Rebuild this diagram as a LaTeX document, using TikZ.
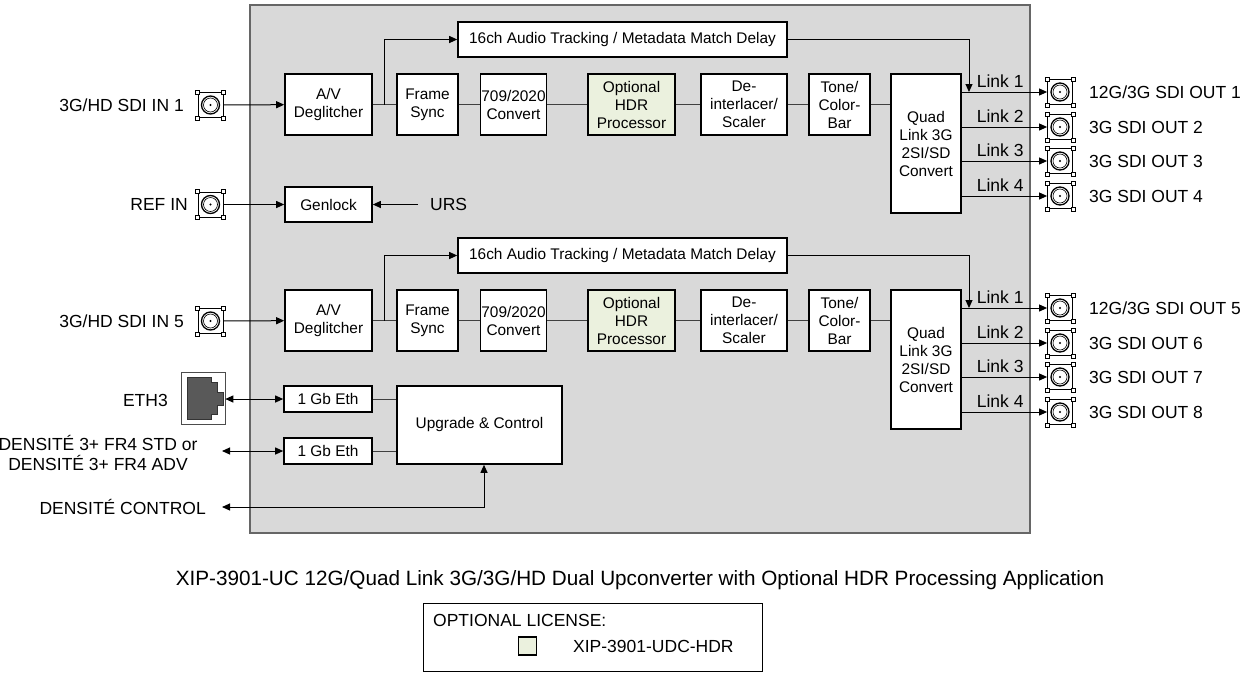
\documentclass[tikz,border=0pt]{standalone}
\usepackage{fontspec}
\setmainfont{Liberation Sans}
\usetikzlibrary{arrows.meta}

\definecolor{panelgray}{HTML}{D9D9D9}
\definecolor{hdrgreen}{HTML}{EBF1DE}
\definecolor{jackgray}{HTML}{595959}

\tikzset{
  blk/.style={draw, line width=1.6pt, fill=white, align=center, inner sep=1pt,
    minimum height=61pt, font=\fontsize{15.4}{18}\selectfont},
  wide/.style={minimum width=87pt},
  narrow/.style={minimum width=61pt},
  lbl/.style={inner sep=0pt, font=\fontsize{17.5}{20}\selectfont},
  wire/.style={draw=black!75, line width=1pt},
  sig/.style={draw=black, line width=1pt, -{Triangle[length=8pt,width=7pt]}},
  bisig/.style={draw=black, line width=1pt,
    {Triangle[length=8pt,width=7pt]}-{Triangle[length=8pt,width=7pt]}},
  bncbox/.style={draw, line width=0.8pt, fill=white, minimum size=25pt, inner sep=0pt},
}

% BNC jack: name, centre
\newcommand{\bnc}[2]{%
  \node[bncbox] (#1) at (#2) {};
  \draw[line width=1.3pt] (#1.center) circle (9pt);
  \draw[line width=0.6pt] (#1.center) circle (7pt);
  \fill (#1.center) circle (1.2pt);
  \foreach \corner in {north east,north west,south east,south west}
    \draw[line width=0.6pt, fill=white] (#1.\corner) +(-2,-2) rectangle +(2,2);
}

\begin{document}
\begin{tikzpicture}[x=1pt, y=-1pt]
        \useasboundingbox (0,0) rectangle (1248,673);
        \draw[draw=black!60, line width=1.3pt, fill=panelgray] (250,5) rectangle (1030,533);

        % input 1 chain
        \node[blk, wide] (deg1) at (328.5,104.5) {A/V\\Deglitcher};
        \node[blk, narrow] (sync1) at (427.5,104.5) {Frame\\Sync};
        \node[blk, narrow] (conv1) at (513.5,104.5) {709/2020\\Convert};
        \node[blk, wide, fill=hdrgreen] (hdr1) at (631.5,104.5) {Optional\\HDR\\Processor};
        \node[blk, minimum width=86pt] (dei1) at (744,104.5) {De-\\interlacer/\\Scaler};
        \node[blk, narrow] (tone1) at (839.5,104.5) {Tone/\\Color-\\Bar};
        \node[blk, minimum width=70pt, minimum height=139pt] (quad1) at (926,143.5) {Quad\\Link 3G\\2SI/SD\\Convert};
        \node[blk, minimum width=329pt, minimum height=35pt] (audio1) at (622.5,39.5) {16ch Audio Tracking / Metadata Match Delay};
        \node[blk, wide, minimum height=35pt] (genlock) at (328.5,204.5) {Genlock};
        \node[lbl, anchor=west] (urs) at (430,204.5) {URS};

        % input 5 chain
        \node[blk, wide] (deg5) at (328.5,320.5) {A/V\\Deglitcher};
        \node[blk, narrow] (sync5) at (427.5,320.5) {Frame\\Sync};
        \node[blk, narrow] (conv5) at (513.5,320.5) {709/2020\\Convert};
        \node[blk, wide, fill=hdrgreen] (hdr5) at (631.5,320.5) {Optional\\HDR\\Processor};
        \node[blk, minimum width=86pt] (dei5) at (744,320.5) {De-\\interlacer/\\Scaler};
        \node[blk, narrow] (tone5) at (839.5,320.5) {Tone/\\Color-\\Bar};
        \node[blk, minimum width=70pt, minimum height=139pt] (quad5) at (926,359.5) {Quad\\Link 3G\\2SI/SD\\Convert};
        \node[blk, minimum width=329pt, minimum height=35pt] (audio5) at (622.5,255.5) {16ch Audio Tracking / Metadata Match Delay};

        % control
        \node[blk, minimum width=88pt, minimum height=26pt] (gbe1) at (328,399) {1 Gb Eth};
        \node[blk, minimum width=88pt, minimum height=26pt] (gbe2) at (328,451) {1 Gb Eth};
        \node[blk, minimum width=165pt, minimum height=78pt] (ctrl) at (479.5,425) {Upgrade \& Control};

        % jacks
        \bnc{in1}{210.5,105}
        \bnc{ref}{210.5,204.5}
        \bnc{in5}{210.5,321}
        \bnc{out1}{1060,92}
        \bnc{out2}{1060,127}
        \bnc{out3}{1060,161}
        \bnc{out4}{1060,196}
        \bnc{out5}{1060,308}
        \bnc{out6}{1060,343}
        \bnc{out7}{1060,377}
        \bnc{out8}{1060,412}

        \node[draw=black!70, line width=0.6pt, fill=white, minimum width=44pt, minimum height=52pt] (eth3) at (203,398) {};
        \draw[fill=jackgray, draw=black!80, line width=0.6pt] (187,377) -- (211,377) -- (211,382) -- (217,382)
          -- (217,392) -- (223,392) -- (223,405) -- (217,405) -- (217,414) -- (211,414) -- (211,419) -- (187,419) -- cycle;

        % outside labels
        \node[lbl, anchor=east] (in1lbl) at (184,105) {3G/HD SDI IN 1};
        \node[lbl, anchor=east] (reflbl) at (188,204.5) {REF IN};
        \node[lbl, anchor=east] (in5lbl) at (184,321) {3G/HD SDI IN 5};
        \node[lbl, anchor=east] (eth3lbl) at (168,400) {ETH3};
        \node[lbl, align=center] (fr4) at (98,453) {DENSITÉ 3+ FR4 STD or\\DENSITÉ 3+ FR4 ADV};
        \node[lbl, anchor=east] (dctl) at (206,507) {DENSITÉ CONTROL};
        \node[lbl, anchor=west] (out1lbl) at (1089,92) {12G/3G SDI OUT 1};
        \node[lbl, anchor=west] (out2lbl) at (1089,127) {3G SDI OUT 2};
        \node[lbl, anchor=west] (out3lbl) at (1089,161) {3G SDI OUT 3};
        \node[lbl, anchor=west] (out4lbl) at (1089,196) {3G SDI OUT 4};
        \node[lbl, anchor=west] (out5lbl) at (1089,308) {12G/3G SDI OUT 5};
        \node[lbl, anchor=west] (out6lbl) at (1089,343) {3G SDI OUT 6};
        \node[lbl, anchor=west] (out7lbl) at (1089,377) {3G SDI OUT 7};
        \node[lbl, anchor=west] (out8lbl) at (1089,412) {3G SDI OUT 8};

        \coordinate (split1) at (384,104.5);
        \coordinate (split5) at (384,320.5);
        \coordinate (tap1) at (969,92);
        \coordinate (tap5) at (969,308);
        \coordinate (fr4end) at (222,451);
        \coordinate (dctlend) at (222,507);

        % chain wires
        \path [wire] (deg1) edge (sync1);
        \path [wire] (sync1) edge (conv1);
        \path [wire] (conv1) edge (hdr1);
        \path [wire] (hdr1) edge (dei1);
        \path [wire] (dei1) edge (tone1);
        \path [wire] (tone1) edge (tone1 -| quad1.west);
        \path [wire] (deg5) edge (sync5);
        \path [wire] (sync5) edge (conv5);
        \path [wire] (conv5) edge (hdr5);
        \path [wire] (hdr5) edge (dei5);
        \path [wire] (dei5) edge (tone5);
        \path [wire] (tone5) edge (tone5 -| quad5.west);
        \path [wire] (gbe1) edge (gbe1 -| ctrl.west);
        \path [wire] (gbe2) edge (gbe2 -| ctrl.west);

        % signal arrows
        \draw [sig] (in1) -- (deg1);
        \draw [sig] (ref) -- (genlock);
        \draw [sig, shorten <=12pt] (urs) -- (genlock);
        \draw [sig] (in5) -- (deg5);
        \draw [sig] (split1) |- (audio1.west);
        \draw [sig] (split5) |- (audio5.west);
        \draw [sig] (audio1.east) -| (tap1);
        \draw [sig] (audio5.east) -| (tap5);

        \draw [sig] (quad1.east |- out1) -- node[lbl, above=4pt, pos=0.45] (link1a) {Link 1} (out1);
        \draw [sig] (quad1.east |- out2) -- node[lbl, above=4pt, pos=0.45] (link2a) {Link 2} (out2);
        \draw [sig] (quad1.east |- out3) -- node[lbl, above=4pt, pos=0.45] (link3a) {Link 3} (out3);
        \draw [sig] (quad1.east |- out4) -- node[lbl, above=4pt, pos=0.45] (link4a) {Link 4} (out4);
        \draw [sig] (quad5.east |- out5) -- node[lbl, above=4pt, pos=0.45] (link1b) {Link 1} (out5);
        \draw [sig] (quad5.east |- out6) -- node[lbl, above=4pt, pos=0.45] (link2b) {Link 2} (out6);
        \draw [sig] (quad5.east |- out7) -- node[lbl, above=4pt, pos=0.45] (link3b) {Link 3} (out7);
        \draw [sig] (quad5.east |- out8) -- node[lbl, above=4pt, pos=0.45] (link4b) {Link 4} (out8);

        \draw [bisig] (gbe1 -| eth3.east) -- (gbe1.west);
        \draw [bisig] (fr4end) -- (gbe2.west);
        \draw [bisig] (dctlend) -| ([xshift=4.5pt]ctrl.south);

        % caption and legend
        \node[lbl, font=\fontsize{20.7}{24}\selectfont] (caption) at (640,580) {XIP-3901-UC 12G/Quad Link 3G/3G/HD Dual Upconverter with Optional HDR Processing Application};
        \node[draw, line width=1pt, minimum width=339pt, minimum height=68pt] (legend) at (592.5,637.5) {};
        \node[lbl, anchor=west] (lictitle) at (433,620) {OPTIONAL LICENSE:};
        \node[draw, line width=1.4pt, fill=hdrgreen, minimum size=18pt, inner sep=0pt] (licbox) at (527.5,646) {};
        \node[lbl, anchor=west] (licname) at (573,646) {XIP-3901-UDC-HDR};
\end{tikzpicture}
\end{document}
